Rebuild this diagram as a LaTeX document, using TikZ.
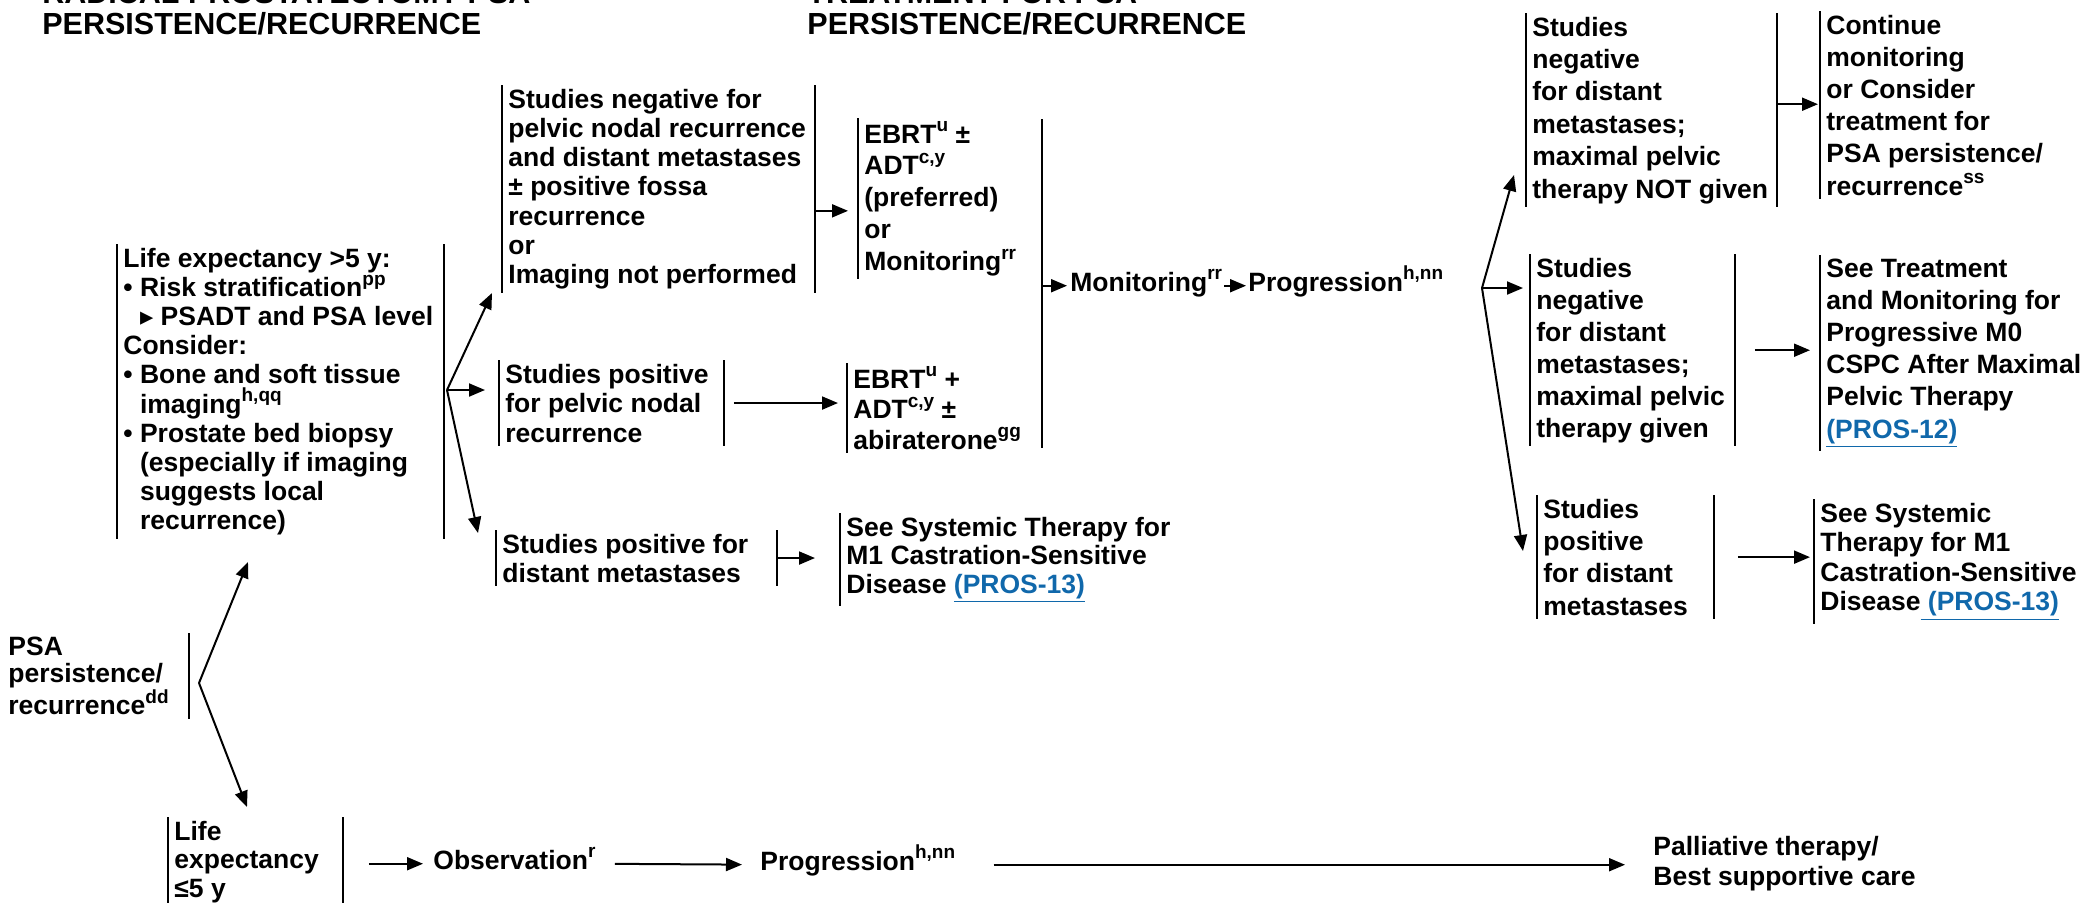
\documentclass[tikz,border=0pt]{standalone}
\usepackage{fontspec}
\setmainfont{Liberation Sans}
\newfontfamily\dejavu{DejaVu Sans}
\usetikzlibrary{arrows.meta}
\definecolor{LinkBlue}{RGB}{16,104,171}
\newcommand\Sup[1]{\raisebox{0.42em}{\fontsize{9.5}{9.5}\selectfont #1}}
\newcommand\Link[1]{{\color{LinkBlue}\underline{#1}}}
\newcommand\Fs[1]{\fontsize{13.25}{#1}\selectfont\bfseries}
\tikzset{
  BoxStyle/.style = {anchor=base west, align=flush left, inner xsep=3pt,
                     inner ysep=1.5pt, text width=#1},
  WordStyle/.style = {anchor=base west, inner sep=0pt, font=\Fs{15}},
  TitleStyle/.style = {anchor=base west, align=flush left, inner sep=0pt,
                       text width=260pt,
                       font=\fontsize{15.25}{15.5}\selectfont\bfseries},
  LineStyle/.style = {line width=1.2pt},
  ArrowStyle/.style = {-{Triangle[length=8pt,width=6.5pt]}, line width=1pt}}

\begin{document}
\begin{tikzpicture}[x=0.5pt, y=-0.5pt]
  \useasboundingbox (0,0) rectangle (2084,902);

  \node[TitleStyle] (t1) at (42,3) {RADICAL PROSTATECTOMY PSA\\PERSISTENCE/RECURRENCE};
  \node[TitleStyle] (t2) at (807,3) {TREATMENT FOR PSA\\PERSISTENCE/RECURRENCE};

  \node[BoxStyle=87pt, font=\Fs{13.75}] (psa) at (2,655)
    {PSA\\persistence/\\recurrence\Sup{dd}};
  \node[BoxStyle=157pt, font=\Fs{14.6}] (le5) at (117,267)
    {Life expectancy >5 y:\\
     • Risk stratification\Sup{pp}\\
     \hphantom{• }{\dejavu ▸} PSADT and PSA level\\
     Consider:\\
     • Bone and soft tissue\\
     \hphantom{• }imaging\Sup{h,qq}\\
     • Prostate bed biopsy\\
     \hphantom{• }(especially if imaging\\
     \hphantom{• }suggests local\\
     \hphantom{• }recurrence)};
  \node[BoxStyle=81pt, font=\Fs{14.25}] (lle5) at (168,840)
    {Life\\expectancy\\≤5 y};

  \node[BoxStyle=150pt, font=\Fs{14.65}] (sneg) at (502,108)
    {Studies negative for\\pelvic nodal recurrence\\and distant metastases\\± positive fossa\\recurrence\\or\\Imaging not performed};
  \node[BoxStyle=106pt, font=\Fs{14.75}] (sp) at (499,383)
    {Studies positive\\for pelvic nodal\\recurrence};
  \node[BoxStyle=134pt, font=\Fs{14.5}] (sd) at (496,553)
    {Studies positive for\\distant metastases};

  \node[BoxStyle=86pt, font=\Fs{15.9}] (ebrt1) at (858,143)
    {EBRT\Sup{u} ±\\ADT\Sup{c,y}\\(preferred)\\or\\Monitoring\Sup{rr}};
  \node[BoxStyle=88pt, font=\Fs{15.25}] (ebrt2) at (847,388)
    {EBRT\Sup{u} +\\ADT\Sup{c,y} ±\\abiraterone\Sup{gg}};
  \node[BoxStyle=170pt, font=\Fs{14.25}] (st1) at (840,536)
    {See Systemic Therapy for\\M1 Castration-Sensitive\\Disease \Link{(PROS-13)}};

  \coordinate (bbtop) at (1042,119);
  \coordinate (bbbot) at (1042,448);
  \node[WordStyle] (mon) at (1070,291) {Monitoring\Sup{rr}};
  \node[WordStyle] (prog) at (1248,291) {Progression\Sup{h,nn}};

  \node[BoxStyle=119pt, font=\Fs{16.2}] (rn1) at (1526,36)
    {Studies\\negative\\for distant\\metastases;\\maximal pelvic\\therapy NOT given};
  \node[BoxStyle=120pt, font=\Fs{16.1}] (cm) at (1820,34)
    {Continue\\monitoring\\or Consider\\treatment for\\PSA persistence/\\recurrence\Sup{ss}};
  \node[BoxStyle=96pt, font=\Fs{16}] (rn2) at (1530,277)
    {Studies\\negative\\for distant\\metastases;\\maximal pelvic\\therapy given};
  \node[BoxStyle=130pt, font=\Fs{16.1}] (tm) at (1820,277)
    {See Treatment\\and Monitoring for\\Progressive M0\\CSPC After Maximal\\Pelvic Therapy\\\Link{(PROS-12)}};
  \node[BoxStyle=82pt, font=\Fs{16.2}] (rp) at (1537,518)
    {Studies\\positive\\for distant\\metastases};
  \node[BoxStyle=130pt, font=\Fs{14.8}] (st2) at (1814,522)
    {See Systemic\\Therapy for M1\\Castration-Sensitive\\Disease\Link{ (PROS-13)}};

  \node[WordStyle] (obs) at (433,869) {Observation\Sup{r}};
  \node[WordStyle] (prog2) at (760,870) {Progression\Sup{h,nn}};
  \node[WordStyle, align=flush left, text width=140pt] (pall) at (1653,855)
    {Palliative therapy/\\Best supportive care};

  \draw[LineStyle] (psa.north east) -- (psa.south east);
  \draw[LineStyle] (le5.north west) -- (le5.south west);
  \draw[LineStyle] (le5.north east) -- (le5.south east);
  \draw[LineStyle] (lle5.north west) -- (lle5.south west);
  \draw[LineStyle] (lle5.north east) -- (lle5.south east);
  \draw[LineStyle] (sneg.north west) -- (sneg.south west);
  \draw[LineStyle] (sneg.north east) -- (sneg.south east);
  \draw[LineStyle] (sp.north west) -- (sp.south west);
  \draw[LineStyle] (sp.north east) -- (sp.south east);
  \draw[LineStyle] (sd.north west) -- (sd.south west);
  \draw[LineStyle] (sd.north east) -- (sd.south east);
  \draw[LineStyle] (ebrt1.north west) -- (ebrt1.south west);
  \draw[LineStyle] (ebrt2.north west) -- (ebrt2.south west);
  \draw[LineStyle] (st1.north west) -- (st1.south west);
  \draw[LineStyle] (bbtop) -- (bbbot);
  \draw[LineStyle] (rn1.north west) -- (rn1.south west);
  \draw[LineStyle] (rn1.north east) -- (rn1.south east);
  \draw[LineStyle] (cm.north west) -- (cm.south west);
  \draw[LineStyle] (rn2.north west) -- (rn2.south west);
  \draw[LineStyle] (rn2.north east) -- (rn2.south east);
  \draw[LineStyle] (tm.north west) -- (tm.south west);
  \draw[LineStyle] (rp.north west) -- (rp.south west);
  \draw[LineStyle] (rp.north east) -- (rp.south east);
  \draw[LineStyle] (st2.north west) -- (st2.south west);

  \coordinate (fanA) at (199,683);
  \coordinate (fanA1) at (248,562);
  \coordinate (fanA2) at (247,807);
  \coordinate (fanB) at (447,390);
  \coordinate (fanB1) at (492,293);
  \coordinate (fanB2) at (485,390);
  \coordinate (fanB3) at (478,533);
  \coordinate (fanC) at (1482,288);
  \coordinate (fanC1) at (1514,175);
  \coordinate (fanC2) at (1523,288);
  \coordinate (fanC3) at (1523,551);

  \draw[ArrowStyle] (fanA) -- (fanA1);
  \draw[ArrowStyle] (fanA) -- (fanA2);
  \draw[ArrowStyle] (fanB) -- (fanB1);
  \draw[ArrowStyle] (fanB) -- (fanB2);
  \draw[ArrowStyle] (fanB) -- (fanB3);
  \draw[ArrowStyle] (fanC) -- (fanC1);
  \draw[ArrowStyle] (fanC) -- (fanC2);
  \draw[ArrowStyle] (fanC) -- (fanC3);

  \draw[ArrowStyle, shorten >=5pt] ([yshift=-6pt]ebrt1.west -| sneg.east) -- ([yshift=-6pt]ebrt1.west);
  \draw[ArrowStyle, shorten <=5pt, shorten >=4.5pt] (sp.east) -- (sp.east -| ebrt2.west);
  \draw[ArrowStyle, shorten >=12.5pt] (sd.east) -- (sd.east -| st1.west);
  \draw[ArrowStyle, shorten >=1.5pt] (bbtop |- mon.mid west) -- (mon.mid west);
  \draw[ArrowStyle, shorten <=1pt, shorten >=1pt] (mon.mid east) -- (prog.mid west);
  \draw[ArrowStyle, shorten >=1pt] ([yshift=3pt]rn1.east) -- ([yshift=3pt]rn1.east -| cm.west);
  \draw[ArrowStyle, shorten <=10pt, shorten >=5pt] (rn2.east) -- (rn2.east -| tm.west);
  \draw[ArrowStyle, shorten <=12pt, shorten >=2pt] (rp.east) -- (rp.east -| st2.west);
  \draw[ArrowStyle, shorten <=13pt, shorten >=5pt] (lle5.east |- obs.mid west) -- (obs.mid west);
  \draw[ArrowStyle, shorten <=9.5pt, shorten >=9pt] (obs.mid east) -- (prog2.mid west);
  \draw[ArrowStyle, shorten <=19pt, shorten >=14pt] (prog2.mid east) -- (prog2.mid east -| pall.west);

\end{tikzpicture}
\end{document}
